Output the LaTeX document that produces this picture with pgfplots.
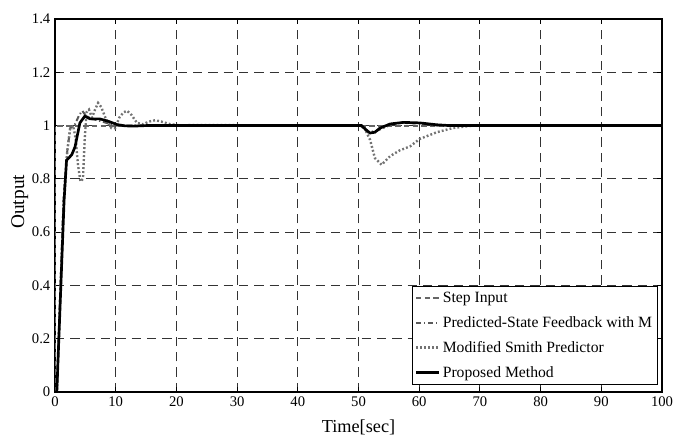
\documentclass[border=0pt]{standalone}
\usepackage{pgfplots}
\pgfplotsset{compat=1.18}
\usepackage{fontspec}
\setmainfont{Liberation Serif}

\begin{document}
\begin{tikzpicture}
	\begin{axis}[
		scale only axis,
		width=455.25pt,
		height=279.75pt,
		xmin=0, xmax=100,
		ymin=0, ymax=1.4,
		xtick={0,10,...,100},
		ytick={0,0.2,0.4,0.6,0.8,1,1.2,1.4},
		tick align=inside,
		tick pos=both,
		major tick length=3.75pt,
		axis line style={line width=0.9pt},
		every tick/.style={black,line width=0.7pt},
		grid=major,
		major grid style={black!80,line width=0.7pt,dash pattern=on 7pt off 4.5pt},
		/pgf/number format/assume math mode=true,
		tick label style={font=\fontsize{11}{13}\selectfont},
		yticklabel style={/pgf/number format/fixed},
		xlabel={Time[sec]},
		ylabel={Output},
		xlabel style={font=\fontsize{13.7}{16}\selectfont,at={(axis description cs:0.5,-0.095)},anchor=center},
		ylabel style={font=\fontsize{14.5}{17}\selectfont,at={(axis description cs:-0.0582,0.51)},anchor=center},
		legend cell align=left,
		legend style={
			at={(1,0)}, anchor=south east, xshift=-3pt, yshift=5.25pt,
			draw=black, line width=0.9pt,
			font=\fontsize{11.75}{14}\selectfont,
			inner xsep=2pt, inner ysep=2pt,
			row sep=5pt,
			/tikz/every even column/.append style={column sep=0pt},
		},
		legend image code/.code={\draw[#1] (0pt,0pt) -- (17pt,0pt);},
		]
		% step input
		\addplot[color=black!60, line width=1.5pt, dash pattern=on 4pt off 2.5pt] coordinates {
			(0,0) (0,1) (100,1)
		};
		\addlegendentry{Step Input}
		% predicted-state feedback
		\addplot[color=black!65, line width=1.5pt, dash pattern=on 4pt off 2pt on 1pt off 2pt] coordinates {
			(0,0) (0.3,0) (1.4,0.72) (2,0.9) (2.5,0.99) (3.2,1.0) (4.0,1.04) (4.5,1.055)
			(5,1.04) (6,1.025) (7,1.02) (8.5,1.01) (10,1.0) (50.3,1.0) (51.5,0.975)
			(53,0.98) (55,1.0) (57,1.01) (60,1.008) (63,1.0) (100,1)
		};
		\addlegendentry{Predicted-State Feedback with M}
		% modified smith predictor
		\addplot[color=black!55, line width=1.8pt, dash pattern=on 1.4pt off 1.6pt] coordinates {
			(0,0) (0.3,0) (1.4,0.7) (2,0.9) (2.5,0.99) (3,1.0) (3.4,0.95) (3.8,0.85)
			(4.2,0.79) (4.6,0.8) (4.9,0.95) (5.2,1.05) (5.6,1.06) (6.1,1.03) (6.6,1.06)
			(7.1,1.085) (7.6,1.07) (8.3,1.03) (9.3,0.99) (9.9,0.99) (10.6,1.03)
			(11.3,1.05) (11.9,1.055) (12.6,1.04) (13.5,1.01) (14.5,1.005) (15.5,1.015)
			(16.5,1.02) (17.5,1.015) (19,1.005) (21,1.0) (22,1.002) (50.3,1.0)
			(51,0.99) (51.9,0.947) (52.7,0.878) (53.8,0.853) (55.2,0.885) (56.8,0.907)
			(58.5,0.922) (60.1,0.95) (62.9,0.975) (65.6,0.991) (68.4,0.999) (70,1.0)
			(100,1)
		};
		\addlegendentry{Modified Smith Predictor}
		% proposed
		\addplot[color=black, line width=2pt] coordinates {
			(0,0) (0.3,0) (1.5,0.72) (1.9,0.87) (2.75,0.89) (3.3,0.92) (4.1,1.01)
			(4.9,1.035) (5.8,1.025) (7.4,1.025) (8.8,1.016) (10.2,1.004) (11.5,0.999)
			(13,0.998) (15,1.0) (50.5,1.0) (51.2,0.985) (51.9,0.972) (52.7,0.975)
			(53.5,0.99) (55.2,1.006) (57.4,1.012) (60.1,1.01) (62.9,1.003) (65,1.0)
			(100,1)
		};
		\addlegendentry{Proposed Method}
	\end{axis}
	\path ([xshift=-41.25pt,yshift=-35.25pt]current axis.south west) rectangle ([xshift=16.5pt,yshift=14.25pt]current axis.north east);
\end{tikzpicture}
\end{document}
